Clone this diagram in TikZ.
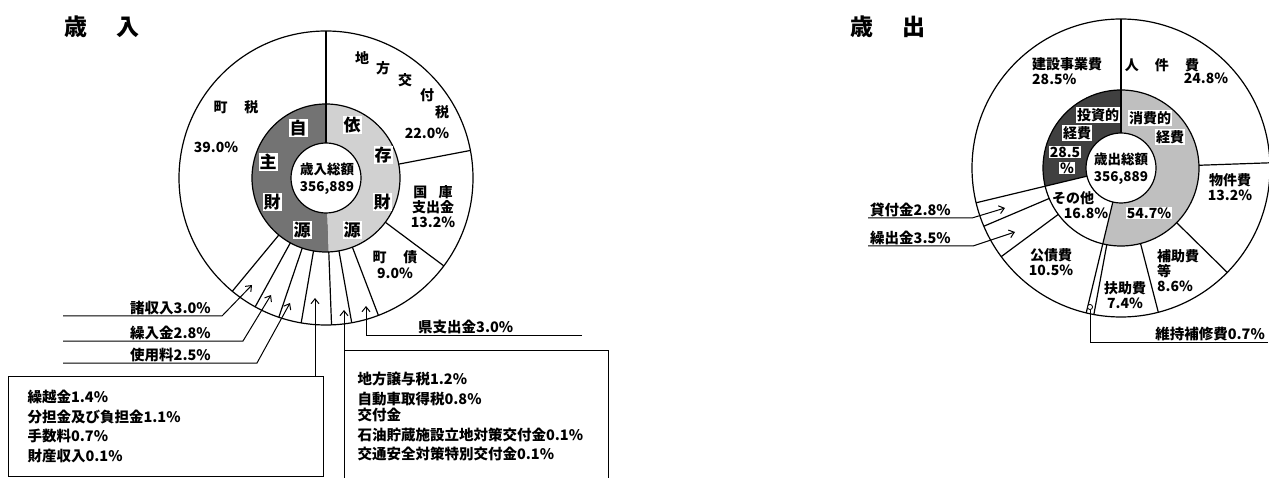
\documentclass[tikz,border=0pt]{standalone}
\usepackage{fontspec}
\setmainfont{Noto Sans CJK JP}
\usetikzlibrary{positioning,arrows.meta}

\begin{document}
\begin{tikzpicture}[x=1pt,y=-1pt,>={Straight Barb[length=5pt,width=8pt]},
    lbl/.style={font=\fontsize{14}{15}\selectfont\bfseries,align=center,inner sep=0pt},
    tag/.style={font=\fontsize{14.5}{14.5}\selectfont\bfseries,inner sep=0pt},
    ringch/.style={fill=white,inner sep=1pt,font=\fontsize{17}{17}\selectfont\bfseries},
    ringsm/.style={fill=white,inner sep=1pt,font=\fontsize{14}{14}\selectfont\bfseries},
    total/.style={font=\fontsize{13.5}{17}\selectfont\bfseries,align=center,inner sep=0pt},
    hdr/.style={font=\fontsize{23}{23}\selectfont\bfseries},
    pie/.style={line width=1.2pt},
    lead/.style={line width=1pt},
    listbox/.style={draw,line width=1pt,anchor=north west,align=left,
      font=\fontsize{14.5}{19.5}\selectfont\bfseries,inner ysep=0pt}]
  \fill[white] (0,0) rectangle (1269,478);
  \useasboundingbox (0,0) rectangle (1269,478);

  % revenue
  \node[hdr] (revt) at (102,27) {歳\hspace{1.3em}入};
  \begin{scope}[shift={(326,178)}]
    \fill[black!55] (0,0) -- (-90:74) arc[start angle=-90,end angle=-272.16,radius=74] -- cycle;
    \fill[black!18] (0,0) -- (-272.16:74) arc[start angle=-272.16,end angle=-450,radius=74] -- cycle;
    \fill[white] (0,0) circle[radius=35];
    \draw[pie] (0,0) circle[radius=35] (0,0) circle[radius=74] (0,0) circle[radius=147];
    \draw[pie] (-90:35) -- (-90:147);
    \foreach \a in {-10.8,36.72,69.12,79.92,87.84,99.72,108.72,118.8,129.6}
      \draw[pie] (\a:74) -- (\a:147);
  \end{scope}
  \node[total] (revsum) at (327,179) {歳入総額\\356,889};
  \foreach \x/\y/\t [count=\i] in {298/128/自,268/162/主,272/202/財,302/230/源}
    \node[ringch] (own\i) at (\x,\y) {\t};
  \foreach \x/\y/\t [count=\i] in {352/125/依,383/155/存,382/202/財,352/230/源}
    \node[ringch] (dep\i) at (\x,\y) {\t};

  \node[lbl] (town) at (236,107) {町\hspace{1.2em}税};
  \node[lbl] (townp) at (216,147) {39.0\%};
  \foreach \x/\y/\t [count=\i] in {362/58/地,383/68/方,405/80/交,427/95/付,442/112/税}
    \node[lbl] (kofu\i) at (\x,\y) {\t};
  \node[lbl] (kofup) at (427,133) {22.0\%};
  \node[lbl] (natl) at (433,207) {国\hspace{0.8em}庫\\支出金\\13.2\%};
  \node[lbl,font=\fontsize{14}{16}\selectfont\bfseries] (bond) at (395,265) {町\hspace{1.2em}債\\9.0\%};

  \coordinate (miscS) at (63,316);
  \coordinate (miscK) at (222,316);
  \coordinate (miscT) at (252,285);
  \node[tag,above right=1pt and 67pt of miscS] (misc) {諸収入3.0\%};
  \coordinate (inS) at (63,341);
  \coordinate (inK) at (243,341);
  \coordinate (inT) at (271,295);
  \node[tag,above right=1pt and 67pt of inS] (infund) {繰入金2.8\%};
  \coordinate (useS) at (63,363);
  \coordinate (useK) at (257,363);
  \coordinate (useT) at (290,303);
  \node[tag,above right=1pt and 67pt of useS] (use) {使用料2.5\%};
  \coordinate (prefE) at (582,335);
  \coordinate (prefK) at (366,335);
  \coordinate (prefT) at (366,306);
  \node[tag,above right=1pt and 52pt of prefK] (pref) {県支出金3.0\%};

  \node[listbox,text width=277pt,inner xsep=19pt,minimum height=100pt] (lbox) at (8,376)
    {繰越金1.4\%\\分担金及び負担金1.1\%\\手数料0.7\%\\財産収入0.1\%};
  \coordinate (lboxT) at (315,298);
  \node[listbox,text width=238pt,inner xsep=13pt,minimum height=132pt] (rbox) at (344,350)
    {地方譲与税1.2\%\\自動車取得税0.8\%\\[-3pt]交付金\\石油貯蔵施設立地対策交付金0.1\%\\交通安全対策特別交付金0.1\%};
  \coordinate (rboxT) at (344,310);

  % arrows
  \draw[lead,->] (miscS) -- (miscK) -- (miscT);
  \draw[lead,->] (inS) -- (inK) -- (inT);
  \draw[lead,->] (useS) -- (useK) -- (useT);
  \draw[lead,->] (prefE) -- (prefK) -- (prefT);
  \draw[lead,->] (lboxT |- lbox.north) -- (lboxT);
  \draw[lead,->] (rbox.north west) -- (rboxT);

  % expenditure
  \node[hdr] (expt) at (888,27) {歳\hspace{1.3em}出};
  \begin{scope}[shift={(1121,168)}]
    \fill[black!75] (0,0) -- (-90:78) arc[start angle=-90,end angle=-193.5,radius=78] -- cycle;
    \fill[black!25] (0,0) -- (-256.5:78) arc[start angle=-256.5,end angle=-450,radius=78] -- cycle;
    \fill[white] (0,0) circle[radius=35];
    \draw[pie] (0,0) circle[radius=35] (0,0) circle[radius=78] (0,0) circle[radius=149];
    \foreach \a in {-90,166.5,103.5}
      \draw[pie] (\a:35) -- (\a:149);
    \foreach \a in {-2,44.5,75.5,100.5,143.5,157}
      \draw[pie] (\a:78) -- (\a:149);
  \end{scope}
  \node[total] (expsum) at (1121,169) {歳出総額\\356,889};
  \node[ringsm] (inv1) at (1098,115) {投資的};
  \node[ringsm] (inv2) at (1077,133) {経費};
  \node[ringsm] (inv3) at (1065,152) {28.5};
  \node[ringsm] (inv4) at (1067,168) {\%};
  \node[ringsm] (con1) at (1150,118) {消費的};
  \node[ringsm] (con2) at (1170,137) {経費};
  \node[ringsm] (conp) at (1149,213) {54.7\%};
  \node[lbl] (oth) at (1073,198) {その他};
  \node[lbl] (othp) at (1086,213) {16.8\%};

  \node[lbl,anchor=west,align=left] (build) at (1032,71) {建設事業費\\28.5\%};
  \node[lbl] (pers) at (1162,65) {人\hspace{1.15em}件\hspace{1.15em}費};
  \node[lbl] (persp) at (1206,78) {24.8\%};
  \node[lbl] (goods) at (1230,187) {物件費\\13.2\%};
  \node[lbl,anchor=west,align=left] (subs) at (1157,271) {補助費\\等\\8.6\%};
  \node[lbl] (aid) at (1125,295) {扶助費\\7.4\%};
  \node[lbl] (debt) at (1051,262) {公債費\\10.5\%};

  \coordinate (loanS) at (868,218);
  \coordinate (loanK) at (972,218);
  \coordinate (loanT) at (1005,208);
  \node[tag,above right=1pt and 2pt of loanS] (loan) {貸付金2.8\%};
  \coordinate (trS) at (868,246);
  \coordinate (trK) at (973,246);
  \coordinate (trT) at (1015,232);
  \node[tag,above right=1pt and 2pt of trS] (trans) {繰出金3.5\%};
  \node[circle,draw,line width=0.8pt,fill=white,inner sep=1.8pt] (mntC) at (1090,307) {};
  \coordinate (mntE) at (1268,342);
  \coordinate (mntK) at (1090,342);
  \node[tag,above left=1pt and 3pt of mntE] (mnt) {維持補修費0.7\%};

  % arrows
  \draw[lead,->] (loanS) -- (loanK) -- (loanT);
  \draw[lead,->] (trS) -- (trK) -- (trT);
  \draw[lead] (mntE) -- (mntK) -- (mntC);
\end{tikzpicture}
\end{document}
